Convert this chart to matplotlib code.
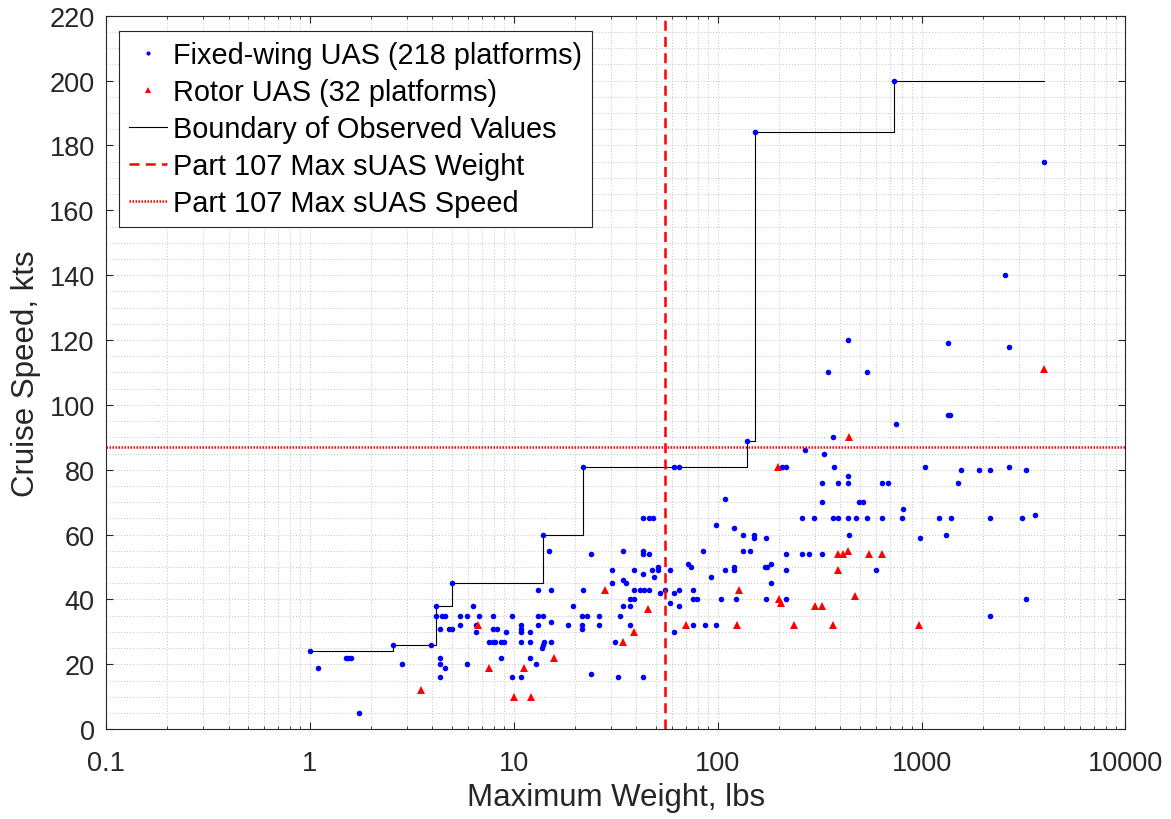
import matplotlib.pyplot as plt
import numpy as np
from matplotlib.ticker import FixedLocator, LogLocator, MultipleLocator, NullFormatter

plt.rcParams['font.family'] = ['Liberation Sans', 'DejaVu Sans']

# fixed-wing platforms: max weight (lbs) / cruise speed (kts)
fixed_weight = [1.0, 1.1, 1.5, 1.55, 1.6, 1.75, 2.55, 2.85, 3.95, 4.15,
                4.15, 4.45, 4.6, 4.37, 4.8, 5.0, 4.37, 4.37, 4.6, 4.37,
                5.0, 5.47, 5.47, 5.9, 6.3, 5.9, 6.74, 6.55, 6.55, 7.9,
                7.9, 8.3, 7.6, 7.9, 8.1, 8.7, 9.0, 9.2, 8.7, 9.8,
                9.8, 10.9, 10.9, 10.9, 10.9, 10.9, 12, 12, 12, 12.9,
                13.1, 13.9, 13.1, 13.1, 14, 14.9, 15.2, 15.2, 14.1, 15.2,
                14, 13.8, 19.6, 18.5, 21.8, 21.8, 21.7, 22.9, 21.7, 21.7,
                23.9, 23.9, 26.1, 26.1, 30.5, 30.5, 31.4, 32.6, 33.4, 34.5,
                35.5, 34.5, 34.5, 37, 39, 37, 37, 39, 39, 41.8,
                43.8, 45.9, 43.3, 45.9, 48.3, 43.3, 43.3, 45.9, 43.3, 43.3,
                47.5, 49, 51.3, 52.4, 51.3, 55, 140, 61, 65, 58.7,
                58.7, 61, 61, 65, 65, 71.5, 74, 75.8, 75.8, 79.4,
                75.8, 84.5, 87, 93, 97.7, 97.7, 104, 108.5, 108.5, 120,
                120, 120, 122.6, 133.4, 133, 145, 151.6, 151.6, 173, 171,
                174, 183.5, 182, 173, 207, 216, 216, 216, 216, 259.5,
                296.6, 260, 282, 269, 326, 326, 326, 334, 367, 371,
                367, 389, 389, 434, 1350, 2700, 347, 538, 1350, 1375,
                754, 1038, 2700, 434, 1560, 1915, 2165, 434, 643, 686,
                1505, 494, 517, 812, 434, 476, 541, 643, 800, 1216,
                1392, 2165, 440, 980, 1313, 596, 2165, 4000, 2580, 3250,
                3100, 3600, 3250, 152, 732]
fixed_speed = [24, 19, 22, 22, 22, 5, 26, 20, 26, 38,
               35, 35, 35, 31, 31, 31, 22, 20, 19, 16,
               45, 35, 32, 35, 38, 20, 35, 32, 30, 35,
               31, 31, 27, 27, 27, 27, 27, 30, 22, 35,
               16, 32, 31, 30, 27, 16, 30, 27, 22, 20,
               35, 35, 32, 43, 60, 55, 43, 33, 27, 27,
               26, 25, 38, 32, 43, 81, 35, 35, 32, 31,
               54, 17, 35, 32, 49, 45, 27, 16, 35, 46,
               45, 55, 38, 40, 40, 38, 32, 49, 43, 43,
               43, 43, 65, 65, 65, 55, 54, 54, 48, 16,
               49, 47, 50, 42, 49, 43, 89, 81, 81, 49,
               39, 42, 30, 43, 38, 51, 50, 43, 40, 40,
               32, 55, 32, 47, 63, 32, 40, 71, 49, 62,
               50, 49, 40, 60, 55, 55, 60, 59, 59, 50,
               50, 51, 45, 40, 81, 81, 54, 49, 40, 65,
               65, 54, 54, 86, 76, 70, 54, 85, 90, 81,
               65, 65, 76, 120, 119, 118, 110, 110, 97, 97,
               94, 81, 81, 78, 80, 80, 80, 76, 76, 76,
               76, 70, 70, 68, 65, 65, 65, 65, 65, 65,
               65, 65, 60, 59, 60, 49, 35, 175, 140, 80,
               65, 66, 40, 184, 200]

# rotorcraft platforms
rotor_weight = [3.5, 6.7, 7.6, 10, 11.3, 12.2, 15.7, 28.1, 34.5, 39,
                45.5, 70, 124, 127, 197, 199, 205, 238, 301, 326,
                367, 389, 389, 442, 413, 434, 551, 643, 474, 970, 4000]
rotor_speed = [12, 32, 19, 10, 19, 10, 22, 43, 27, 30,
               37, 32, 32, 43, 81, 40, 39, 32, 38, 38,
               32, 54, 49, 90, 54, 55, 54, 54, 41, 32, 111]

# Part 107 limits
max_suas_weight = 55     # lbs
max_suas_speed = 87      # kts (100 mph)

x_ticks = [0.1, 1, 10, 100, 1000, 10000]
x_labels = ['0.1', '1', '10', '100', '1000', '10000']
y_ticks = list(range(0, 221, 20))

# running maximum speed over weight -> stair boundary
all_w = np.array(fixed_weight + rotor_weight, dtype=float)
all_v = np.array(fixed_speed + rotor_speed, dtype=float)
order = np.argsort(all_w)
sw, sv = all_w[order], all_v[order]
run_max = np.maximum.accumulate(sv)
keep = np.r_[True, run_max[1:] > run_max[:-1]]
bound_w = np.r_[sw[keep], sw[-1]]
bound_v = np.r_[run_max[keep], run_max[-1]]

fig = plt.figure(figsize=(11.71, 8.2), dpi=100)
ax = fig.add_axes([0.0903, 0.1095, 0.8708, 0.8701])
ax.set_xscale('log')

ax.plot(fixed_weight, fixed_speed, 'o', color='blue', markersize=4.0,
        markeredgewidth=0, label='Fixed-wing UAS (218 platforms)', zorder=3)
ax.plot(rotor_weight, rotor_speed, '^', color='red', markersize=5.3,
        markeredgewidth=0, label='Rotor UAS (32 platforms)', zorder=3)
ax.plot(bound_w, bound_v, color='black', linewidth=0.8, drawstyle='steps-post',
        label='Boundary of Observed Values', zorder=2)
ax.axvline(max_suas_weight, color='red', linestyle=(0, (4, 2.5)), linewidth=1.8,
           label='Part 107 Max sUAS Weight', zorder=4)
ax.axhline(max_suas_speed, color='red', linestyle=(0, (0.6, 0.6)), linewidth=1.8,
           label='Part 107 Max sUAS Speed', zorder=4)

ax.set_xlim(0.1, 10000)
ax.set_ylim(0, 220)
ax.xaxis.set_major_locator(FixedLocator(x_ticks))
ax.set_xticklabels(x_labels)
ax.xaxis.set_minor_locator(LogLocator(base=10, subs=np.arange(2, 10)))
ax.xaxis.set_minor_formatter(NullFormatter())
ax.set_yticks(y_ticks)
ax.yaxis.set_minor_locator(MultipleLocator(5))

ax.grid(True, which='both', linestyle=(0, (1, 2)), color='#c4c4c4', linewidth=0.7)
ax.set_axisbelow(True)

ax.tick_params(which='both', direction='in', top=True, right=True,
               color='#262626', labelcolor='#262626', labelsize=19.5, pad=8)
ax.tick_params(axis='x', which='major', pad=15)
ax.tick_params(which='major', length=5, width=0.8)
ax.tick_params(axis='x', which='minor', length=2.5, width=0.6)
ax.tick_params(axis='y', which='minor', length=0)
for s in ax.spines.values():
    s.set_color('#262626')
    s.set_linewidth(0.8)

ax.set_xlabel('Maximum Weight, lbs', fontsize=22.5, color='#262626', labelpad=4)
ax.set_ylabel('Cruise Speed, kts', fontsize=22.5, color='#262626', labelpad=6)

leg = ax.legend(loc='upper left', bbox_to_anchor=(0.0133, 0.979), borderaxespad=0,
                fontsize=20.8, fancybox=False, framealpha=1, edgecolor='#262626',
                handlelength=1.3, handletextpad=0.2, labelspacing=0.31,
                borderpad=0.35, markerscale=0.75)
leg.get_frame().set_linewidth(0.8)

fig.savefig('out.png', dpi=100)
